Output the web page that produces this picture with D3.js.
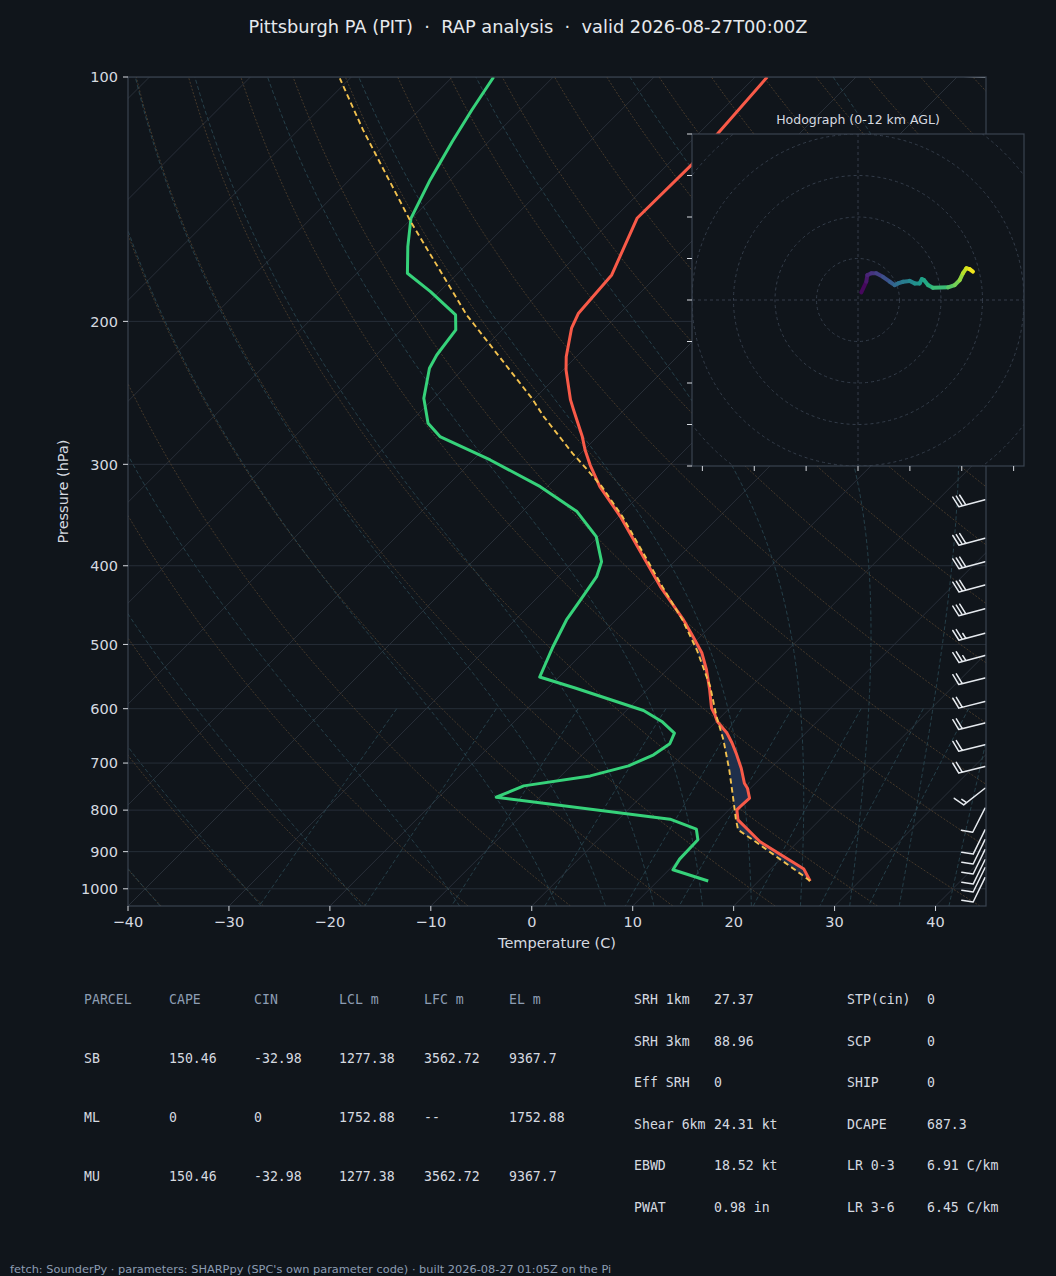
<!DOCTYPE html>
<html><head><meta charset="utf-8">
<script src="https://cdn.jsdelivr.net/npm/d3@7"></script>
<style>
html,body{margin:0;padding:0;background:#10151b;}
svg{display:block;}
text{font-family:"DejaVu Sans",sans-serif;}
</style></head><body>
<svg id="chart" width="1056" height="1276"></svg>
<script>
// ---------------- data ----------------
const titleText = "Pittsburgh PA (PIT)  \u00b7  RAP analysis  \u00b7  valid 2026-08-27T00:00Z";
const footerText = "fetch: SounderPy \u00b7 parameters: SHARPpy (SPC's own parameter code) \u00b7 built 2026-08-27 01:05Z on the Pi";

const pressureTicks = [100, 200, 300, 400, 500, 600, 700, 800, 900, 1000];
const temperatureTicks = [-40, -30, -20, -10, 0, 10, 20, 30, 40];

// environment temperature (hPa, degC)
const envP = [978, 945.6, 874.5, 822.5, 799.5, 792.0, 773.4, 751.8, 741.2, 710.3, 680.6, 661.4, 642.9, 622.1, 610.4, 598.9, 568.6, 537.2, 512.4, 489.1, 466.5, 424.4, 382.5, 347.9, 319.6, 300.6, 288.0, 277.3, 257.1, 249.9, 229.6, 221.1, 203.9, 195.4, 175.3, 149.3, 128.4, 117.3, 100];
const envT = [25.1, 23.3, 16.2, 11.9, 10.8, 10.8, 10.9, 9.7, 8.9, 7.1, 5.1, 3.7, 2.2, 0.1, -0.8, -1.8, -3.8, -6.1, -8.2, -10.7, -13.3, -18.9, -24.6, -29.8, -34.8, -37.9, -39.9, -41.5, -45.0, -46.3, -49.7, -51.0, -53.3, -54.1, -54.6, -57.7, -57.6, -58.1, -58.8];

// dewpoint (hPa, degC)
const dewP = [978, 947.5, 919.2, 870.3, 844.5, 820.8, 771.2, 746.8, 726.0, 705.6, 683.9, 662.7, 642.9, 622.1, 603.0, 565.8, 548.4, 502.9, 466.5, 440.6, 412.6, 395.4, 368.3, 343.0, 319.6, 296.3, 277.3, 267.0, 248.7, 228.5, 220.0, 204.9, 196.4, 183.8, 174.5, 161.8, 149.3, 133.9, 120.1, 109.8, 100];
const dewT = [15.0, 10.4, 10.0, 9.9, 8.7, 5.1, -14.3, -12.7, -7.1, -4.3, -2.9, -2.4, -3.0, -5.4, -8.3, -17.3, -21.9, -23.6, -24.9, -25.5, -26.2, -27.2, -30.2, -34.6, -40.7, -48.3, -55.6, -58.1, -61.0, -63.4, -64.0, -64.6, -66.1, -70.9, -75.0, -77.6, -80.1, -82.0, -83.6, -84.8, -85.9];

// surface parcel path (hPa, degC)
const parcelP = [978, 966, 877, 846, 822.5, 770, 714, 655, 613, 563, 508, 466.5, 424.4, 382.5, 347.9, 319.6, 300.6, 290.8, 262, 248.7, 196.4, 150.7, 134.6, 116.2, 100.4];
const parcelT = [25.1, 24.1, 16.0, 12.9, 11.7, 9.1, 6.1, 2.5, -0.5, -4.1, -9.0, -13.4, -18.7, -24.4, -29.6, -34.6, -38.6, -40.8, -47.3, -50.3, -65.0, -79.8, -85.8, -93.6, -101.0];
const lfcPressure = 468;
const elPressure = 305;

// wind barbs (hPa, kt, deg from)
const barbP   = [969, 942, 921, 895, 870, 846, 795.6, 751.8, 707, 664.6, 624.9, 588, 550, 515.9, 484.4, 452, 422.4, 395.4, 370, 331.8, 100];
const barbSpd = [10, 10, 10, 10, 10, 10, 10, 15, 20, 20, 20, 20, 20, 25, 25, 30, 30, 30, 30, 30, 10];
const barbDir = [206, 206, 206, 206, 206, 206, 207, 232, 256, 256, 256, 256, 256, 255, 255, 255, 255, 255, 255, 255, 272];

// hodograph (kt, km AGL)
const hodoU = [1.6, 4.0, 4.5, 6.4, 8.8, 12.0, 15.3, 17.7, 19.3, 21.7, 24.9, 27.3, 29.7, 30.8, 31.8, 33.7, 36.1, 43.4, 46.6, 49.0, 50.6, 52.2, 53.8, 55.4];
const hodoV = [3.7, 8.8, 12.0, 12.9, 12.9, 11.2, 8.8, 7.2, 8.0, 8.8, 9.2, 8.0, 8.0, 10.1, 9.6, 7.2, 5.9, 6.1, 7.2, 9.6, 12.9, 15.3, 14.9, 13.7];
const hodoZ = [0.0, 0.5, 1.0, 1.5, 2.0, 2.6, 3.2, 3.8, 4.3, 4.8, 5.3, 5.8, 6.2, 6.6, 6.9, 7.3, 7.8, 8.6, 9.2, 9.8, 10.4, 11.0, 11.5, 12.0];
const hodoRings = [20, 40, 60, 80, 100];
const hodoTicksU = [-75, -50, -25, 0, 25, 50, 75];
const hodoTicksV = [-80, -60, -40, -20, 0, 20, 40, 60, 80];

// background line sets
const dryThetas = d3.range(-40, 201, 10);
const moistT0 = [-40, -30, -20, -10, 0, 5, 10, 15, 20, 25, 30, 35, 40, 45];
const mixRatios = [0.0004, 0.001, 0.002, 0.004, 0.007, 0.01, 0.016, 0.024, 0.032];

// tables
const parcelCols = ["PARCEL", "CAPE", "CIN", "LCL m", "LFC m", "EL m"];
const parcelRows = [
  ["SB", "150.46", "-32.98", "1277.38", "3562.72", "9367.7"],
  ["ML", "0", "0", "1752.88", "--", "1752.88"],
  ["MU", "150.46", "-32.98", "1277.38", "3562.72", "9367.7"]
];
const indexLeft = [["SRH 1km", "27.37"], ["SRH 3km", "88.96"], ["Eff SRH", "0"], ["Shear 6km", "24.31 kt"], ["EBWD", "18.52 kt"], ["PWAT", "0.98 in"]];
const indexRight = [["STP(cin)", "0"], ["SCP", "0"], ["SHIP", "0"], ["DCAPE", "687.3"], ["LR 0-3", "6.91 C/km"], ["LR 3-6", "6.45 C/km"]];

// ---------------- styling / layout ----------------
const W = 1056, H = 1276;
const BG = "#10151b";
const TXT = "#d6dae0";
const SPINE = "#3a4350";
const PL = 128, PR = 986, PT = 77, PB = 906;
const PMAX = 1050, PMIN = 100;

const svg = d3.select("#chart");
svg.append("rect").attr("width", W).attr("height", H).attr("fill", BG);

const y = d3.scaleLog().domain([PMAX, PMIN]).range([PB, PT]);
const xT = d3.scaleLinear().domain([-40, 45]).range([PL, PR]);
const SKEW = 1.0;
const sx = (T, p) => xT(T) + (y(PMAX) - y(p)) * SKEW;

const defs = svg.append("defs");
defs.append("clipPath").attr("id", "plotClip").append("rect")
  .attr("x", PL).attr("y", PT).attr("width", PR - PL).attr("height", PB - PT);

const line = d3.line().x(d => sx(d.T, d.p)).y(d => y(d.p));
const zipP = (P, T) => P.map((p, i) => ({p, T: T[i]}));

const gPlot = svg.append("g").attr("clip-path", "url(#plotClip)");

// isobars
gPlot.append("g").selectAll("line").data(pressureTicks).join("line")
  .attr("x1", PL).attr("x2", PR).attr("y1", d => y(d)).attr("y2", d => y(d))
  .attr("stroke", "#262e38").attr("stroke-width", 1);

// isotherms
gPlot.append("g").selectAll("line").data(d3.range(-130, 50, 10)).join("line")
  .attr("x1", d => sx(d, PMAX)).attr("y1", y(PMAX))
  .attr("x2", d => sx(d, PMIN)).attr("y2", y(PMIN))
  .attr("stroke", "#2b323c").attr("stroke-width", 0.9);

// dry adiabats
const pGrid = d3.range(0, 191).map(i => PMAX * Math.pow(PMIN / PMAX, i / 190));
gPlot.append("g").selectAll("path").data(dryThetas).join("path")
  .attr("d", th => line(pGrid.map(p => ({p, T: (th + 273.15) * Math.pow(p / 1000, 0.2857) - 273.15}))))
  .attr("fill", "none").attr("stroke", "#54432e").attr("stroke-width", 0.8)
  .attr("stroke-dasharray", "2,1.6");

// moist adiabats
function dTdp(p, T) {
  const Tc = T - 273.15;
  const es = 6.112 * Math.exp(17.67 * Tc / (Tc + 243.5));
  const rs = 0.622 * es / (p - es);
  const Rd = 287.04, Cp = 1005.7, Lv = 2.501e6, eps = 0.622;
  return (1 / p) * (Rd * T + Lv * rs) / (Cp + (Lv * Lv * rs * eps) / (Rd * T * T));
}
function moistProfile(t0) {
  const step = (p, T, h) => {
    const k1 = dTdp(p, T), k2 = dTdp(p + h / 2, T + h * k1 / 2),
          k3 = dTdp(p + h / 2, T + h * k2 / 2), k4 = dTdp(p + h, T + h * k3);
    return T + h * (k1 + 2 * k2 + 2 * k3 + k4) / 6;
  };
  const up = [{p: 1000, T: t0}];
  let T = t0 + 273.15, p = 1000;
  while (p > PMIN) { const h = Math.max(-5, PMIN - p); T = step(p, T, h); p += h; up.push({p, T: T - 273.15}); }
  const down = [];
  T = t0 + 273.15; p = 1000;
  while (p < PMAX) { const h = Math.min(5, PMAX - p); T = step(p, T, h); p += h; down.push({p, T: T - 273.15}); }
  return down.reverse().concat(up);
}
gPlot.append("g").selectAll("path").data(moistT0).join("path")
  .attr("d", t0 => line(moistProfile(t0)))
  .attr("fill", "none").attr("stroke", "#2b4a55").attr("stroke-width", 0.8)
  .attr("stroke-dasharray", "4,2.5");

// mixing ratio lines
gPlot.append("g").selectAll("path").data(mixRatios).join("path")
  .attr("d", w => line(d3.range(0, 51).map(i => {
    const p = 600 + i * (PMAX - 600) / 50;
    const e = w * p / (0.622 + w);
    const l = Math.log(e / 6.112);
    return {p, T: 243.5 * l / (17.67 - l)};
  })))
  .attr("fill", "none").attr("stroke", "#2b4a55").attr("stroke-width", 0.8)
  .attr("stroke-dasharray", "4,2.5");

// CIN / CAPE shading
function interp(P, T, p) {
  if (p >= P[0]) return T[0];
  if (p <= P[P.length - 1]) return T[T.length - 1];
  for (let i = 0; i < P.length - 1; i++) {
    if (P[i] >= p && p >= P[i + 1]) {
      const f = (Math.log(P[i]) - Math.log(p)) / (Math.log(P[i]) - Math.log(P[i + 1]));
      return T[i] + f * (T[i + 1] - T[i]);
    }
  }
  return T[T.length - 1];
}
const fillGrid = d3.range(0, 401).map(i => parcelP[0] * Math.pow(elPressure / parcelP[0], i / 400));
function runs(cond) {
  const out = []; let cur = [];
  fillGrid.forEach(p => {
    if (cond(p)) cur.push(p);
    else { if (cur.length > 1) out.push(cur); cur = []; }
  });
  if (cur.length > 1) out.push(cur);
  return out;
}
function poly(ps) {
  const a = ps.map(p => [sx(interp(envP, envT, p), p), y(p)]);
  const b = ps.slice().reverse().map(p => [sx(interp(parcelP, parcelT, p), p), y(p)]);
  return "M" + a.concat(b).map(d => d.join(",")).join("L") + "Z";
}
const cinRuns = runs(p => p >= lfcPressure && interp(envP, envT, p) > interp(parcelP, parcelT, p));
const capeRuns = runs(p => p <= lfcPressure && p >= elPressure && interp(parcelP, parcelT, p) > interp(envP, envT, p));
gPlot.append("g").selectAll("path").data(cinRuns).join("path").attr("d", poly).attr("fill", "#1f2f4b");
gPlot.append("g").selectAll("path").data(capeRuns).join("path").attr("d", poly).attr("fill", "#f85a48").attr("fill-opacity", 0.25);

// profiles
gPlot.append("path").attr("d", line(zipP(dewP, dewT))).attr("fill", "none")
  .attr("stroke", "#36d27a").attr("stroke-width", 3).attr("stroke-linejoin", "round");
gPlot.append("path").attr("d", line(zipP(envP, envT))).attr("fill", "none")
  .attr("stroke", "#f85a48").attr("stroke-width", 3).attr("stroke-linejoin", "round");
gPlot.append("path").attr("d", line(zipP(parcelP, parcelT))).attr("fill", "none")
  .attr("stroke", "#f2c14e").attr("stroke-width", 1.9).attr("stroke-dasharray", "5.5,3.5");

// wind barbs
const gBarb = gPlot.append("g").attr("stroke", "#e6eaef").attr("stroke-width", 1.5)
  .attr("fill", "none").attr("stroke-linecap", "round");
barbP.forEach((p, i) => {
  const bx = PR - 1, by = y(p);
  const r = barbDir[i] * Math.PI / 180;
  const ux = Math.sin(r), uy = -Math.cos(r);
  const px = -uy, py = ux;
  const L = 27, sp = 3.6, h = 11, w2 = 3.4;
  const tx = bx + L * ux, ty = by + L * uy;
  let d = `M${bx},${by}L${tx},${ty}`;
  let s = Math.round(barbSpd[i] / 5) * 5;
  const full = Math.floor(s / 10), half = (s % 10) >= 5;
  let pos = 0;
  for (let k = 0; k < full; k++) {
    const qx = tx - pos * ux, qy = ty - pos * uy;
    d += `M${qx},${qy}L${qx + h * px + w2 * ux},${qy + h * py + w2 * uy}`;
    pos += sp;
  }
  if (half) {
    if (full === 0) pos = sp;
    const qx = tx - pos * ux, qy = ty - pos * uy;
    d += `M${qx},${qy}L${qx + h / 2 * px + w2 / 2 * ux},${qy + h / 2 * py + w2 / 2 * uy}`;
  }
  gBarb.append("path").attr("d", d);
});

// frame
svg.append("rect").attr("x", PL).attr("y", PT).attr("width", PR - PL).attr("height", PB - PT)
  .attr("fill", "none").attr("stroke", SPINE).attr("stroke-width", 1.2);

// axes
const gY = svg.append("g");
pressureTicks.forEach(p => {
  gY.append("line").attr("x1", PL - 5).attr("x2", PL).attr("y1", y(p)).attr("y2", y(p))
    .attr("stroke", TXT).attr("stroke-width", 1);
  gY.append("text").attr("x", PL - 10).attr("y", y(p)).attr("dy", "0.36em")
    .attr("text-anchor", "end").attr("font-size", 14.5).attr("fill", TXT).text(p);
});
const gX = svg.append("g");
temperatureTicks.forEach(t => {
  gX.append("line").attr("x1", xT(t)).attr("x2", xT(t)).attr("y1", PB).attr("y2", PB + 5)
    .attr("stroke", TXT).attr("stroke-width", 1);
  gX.append("text").attr("x", xT(t)).attr("y", PB + 21).attr("text-anchor", "middle")
    .attr("font-size", 14.5).attr("fill", TXT).text(t < 0 ? "\u2212" + Math.abs(t) : String(t));
});
svg.append("text").attr("x", (PL + PR) / 2).attr("y", 948).attr("text-anchor", "middle")
  .attr("font-size", 14.5).attr("fill", TXT).text("Temperature (C)");
svg.append("text").attr("transform", `translate(68,${(PT + PB) / 2}) rotate(-90)`)
  .attr("text-anchor", "middle").attr("font-size", 14.5).attr("fill", TXT).text("Pressure (hPa)");

// title
svg.append("text").attr("x", W / 2).attr("y", 33).attr("text-anchor", "middle")
  .attr("font-size", 17.8).attr("fill", "#e6e9ed")
  .style("white-space", "pre").text(titleText);

// ---------------- hodograph inset ----------------
const HX0 = 692, HX1 = 1024, HY0 = 134, HY1 = 466;
const hu = d3.scaleLinear().domain([-80, 80]).range([HX0, HX1]);
const hv = d3.scaleLinear().domain([-80, 80]).range([HY1, HY0]);
defs.append("clipPath").attr("id", "hodoClip").append("rect")
  .attr("x", HX0).attr("y", HY0).attr("width", HX1 - HX0).attr("height", HY1 - HY0);
svg.append("rect").attr("x", HX0).attr("y", HY0).attr("width", HX1 - HX0).attr("height", HY1 - HY0)
  .attr("fill", BG);
const gH = svg.append("g").attr("clip-path", "url(#hodoClip)");
const cx = hu(0), cy = hv(0), kpx = (HX1 - HX0) / 160;
gH.selectAll("circle").data(hodoRings).join("circle")
  .attr("cx", cx).attr("cy", cy).attr("r", d => d * kpx)
  .attr("fill", "none").attr("stroke", "#343d4a").attr("stroke-width", 1).attr("stroke-dasharray", "3,3");
gH.append("line").attr("x1", HX0).attr("x2", HX1).attr("y1", cy).attr("y2", cy)
  .attr("stroke", "#343d4a").attr("stroke-dasharray", "3,3");
gH.append("line").attr("x1", cx).attr("x2", cx).attr("y1", HY0).attr("y2", HY1)
  .attr("stroke", "#343d4a").attr("stroke-dasharray", "3,3");
const segs = d3.range(hodoU.length - 1);
gH.append("g").selectAll("line").data(segs).join("line")
  .attr("x1", i => hu(hodoU[i])).attr("y1", i => hv(hodoV[i]))
  .attr("x2", i => hu(hodoU[i + 1])).attr("y2", i => hv(hodoV[i + 1]))
  .attr("stroke", i => d3.interpolateViridis(((hodoZ[i] + hodoZ[i + 1]) / 2) / 12))
  .attr("stroke-width", 4).attr("stroke-linecap", "round");
svg.append("rect").attr("x", HX0).attr("y", HY0).attr("width", HX1 - HX0).attr("height", HY1 - HY0)
  .attr("fill", "none").attr("stroke", SPINE).attr("stroke-width", 1.2);
hodoTicksV.forEach(v => svg.append("line").attr("x1", HX0 - 5).attr("x2", HX0).attr("y1", hv(v)).attr("y2", hv(v))
  .attr("stroke", TXT).attr("stroke-width", 1));
hodoTicksU.forEach(u => svg.append("line").attr("x1", hu(u)).attr("x2", hu(u)).attr("y1", HY1).attr("y2", HY1 + 5)
  .attr("stroke", TXT).attr("stroke-width", 1));
svg.append("text").attr("x", (HX0 + HX1) / 2).attr("y", 124).attr("text-anchor", "middle")
  .attr("font-size", 12.5).attr("fill", TXT).text("Hodograph (0-12 km AGL)");

// ---------------- tables ----------------
const MONO = '"DejaVu Sans Mono", monospace';
const colX = [84, 169, 254, 339, 424, 509];
const gT = svg.append("g").style("font-family", MONO).attr("font-size", 13.2);
parcelCols.forEach((c, j) => gT.append("text").attr("x", colX[j]).attr("y", 1004)
  .attr("fill", "#8d9db3").style("font-family", MONO).text(c));
parcelRows.forEach((row, i) => row.forEach((v, j) => gT.append("text").attr("x", colX[j]).attr("y", 1063 + i * 59)
  .attr("fill", TXT).style("font-family", MONO).text(v)));
indexLeft.forEach((r, i) => {
  const yy = 1004 + i * 41.6;
  gT.append("text").attr("x", 634).attr("y", yy).attr("fill", TXT).style("font-family", MONO).text(r[0]);
  gT.append("text").attr("x", 714).attr("y", yy).attr("fill", TXT).style("font-family", MONO).text(r[1]);
});
indexRight.forEach((r, i) => {
  const yy = 1004 + i * 41.6;
  gT.append("text").attr("x", 847).attr("y", yy).attr("fill", TXT).style("font-family", MONO).text(r[0]);
  gT.append("text").attr("x", 927).attr("y", yy).attr("fill", TXT).style("font-family", MONO).text(r[1]);
});

// footer
svg.append("text").attr("x", 10).attr("y", 1273).attr("font-size", 11.35).attr("fill", "#8d9db3").text(footerText);
</script>
</body></html>
